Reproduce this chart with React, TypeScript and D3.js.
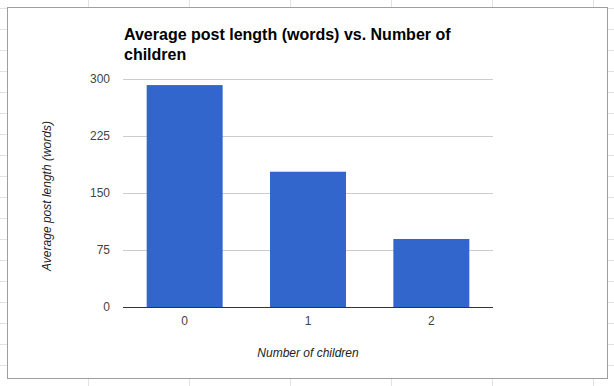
import React from 'react';
import * as d3 from 'd3';

const categories = ['0', '1', '2'];
const values = [292, 178, 89.5];
const yTicks = [0, 75, 150, 225, 300];

const title = ['Average post length (words) vs. Number of', 'children'];
const xTitle = 'Number of children';
const yTitle = 'Average post length (words)';

const W = 614;
const H = 386;
const plot = { left: 123, right: 493, top: 79, bottom: 307 };
const font = 'Arial, "Liberation Sans", sans-serif';

export default function App() {
  const x = d3
    .scaleBand<string>()
    .domain(categories)
    .range([plot.left, plot.right])
    .paddingInner(0.384)
    .paddingOuter(0.192);
  const y = d3.scaleLinear().domain([0, 300]).range([plot.bottom, plot.top]);

  // spreadsheet cells behind the chart
  const cols = d3.range(88, W, 101);
  const rows = d3.range(8, H, 21);

  return (
    <div style={{ position: 'fixed', left: 0, top: 0 }}>
      <svg width={W} height={H} style={{ display: 'block' }}>
        <rect width={W} height={H} fill="#fff" />
        {cols.map(c => (
          <line key={'c' + c} x1={c + 0.5} x2={c + 0.5} y1={0} y2={H} stroke="#e1e1e1" />
        ))}
        {rows.map(r => (
          <line key={'r' + r} x1={0} x2={W} y1={r + 0.5} y2={r + 0.5} stroke="#e1e1e1" />
        ))}
        <rect x={7.5} y={7.5} width={600} height={371} fill="#fff" stroke="#9e9e9e" />

        <text fontFamily={font} fontSize={16} fontWeight="bold" fill="#000">
          {title.map((t, i) => (
            <tspan key={i} x={124} y={40 + i * 20}>
              {t}
            </tspan>
          ))}
        </text>

        {yTicks.map(t => (
          <g key={t}>
            <line
              x1={plot.left}
              x2={plot.right}
              y1={Math.round(y(t)) + 0.5}
              y2={Math.round(y(t)) + 0.5}
              stroke={t === 0 ? '#333' : '#ccc'}
            />
            <text
              x={110}
              y={y(t)}
              dy="0.35em"
              textAnchor="end"
              fontFamily={font}
              fontSize={12}
              fill="#444"
            >
              {t}
            </text>
          </g>
        ))}

        {categories.map((c, i) => (
          <rect
            key={c}
            x={x(c)}
            y={y(values[i])}
            width={x.bandwidth()}
            height={y(0) - y(values[i])}
            fill="#3366cc"
          />
        ))}
        <line
          x1={plot.left}
          x2={plot.right}
          y1={Math.round(y(0)) + 0.5}
          y2={Math.round(y(0)) + 0.5}
          stroke="#333"
        />

        {categories.map(c => (
          <text
            key={c}
            x={(x(c) || 0) + x.bandwidth() / 2}
            y={325}
            textAnchor="middle"
            fontFamily={font}
            fontSize={12}
            fill="#444"
          >
            {c}
          </text>
        ))}

        <text
          x={(plot.left + plot.right) / 2}
          y={357}
          textAnchor="middle"
          fontFamily={font}
          fontSize={12}
          fontStyle="italic"
          fill="#222"
        >
          {xTitle}
        </text>
        <text
          transform={`translate(51, 196) rotate(-90)`}
          textAnchor="middle"
          fontFamily={font}
          fontSize={12}
          fontStyle="italic"
          fill="#222"
        >
          {yTitle}
        </text>
      </svg>
    </div>
  );
}
